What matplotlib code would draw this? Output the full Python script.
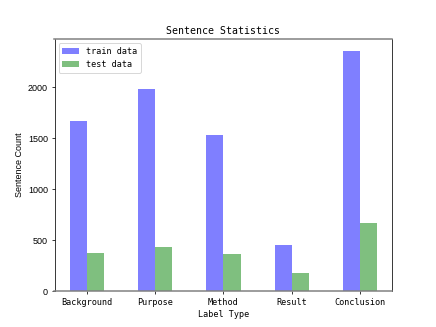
import matplotlib
matplotlib.use("Agg")
import matplotlib.pyplot as plt
import numpy as np

categories = ["Background", "Purpose", "Method", "Result", "Conclusion"]
train_counts = [1665, 1980, 1535, 455, 2355]
test_counts = [372, 436, 362, 175, 673]

mono = "DejaVu Sans Mono"
sans = "Liberation Sans"

fig = plt.figure(figsize=(6.4, 4.8), dpi=68.125)
ax = fig.add_subplot(111)
x = np.arange(len(categories))
w = 0.25
ax.bar(x, train_counts, width=w, color="blue", alpha=0.5, label="train data")
ax.bar(x + w, test_counts, width=w, color="green", alpha=0.5, label="test data")

ax.set_xticks(x + w / 2)
ax.set_xticklabels(categories, fontfamily=mono, fontsize=9)
ax.set_yticks([0, 500, 1000, 1500, 2000])
for t in ax.get_yticklabels():
    t.set_fontfamily(sans)
    t.set_fontsize(9.5)
ax.set_xlabel("Label Type", fontfamily=mono, fontsize=9)
ax.set_ylabel("Sentence Count", fontfamily=sans, fontsize=9.5)
ax.set_title("Sentence Statistics", fontfamily=mono, fontsize=10.5)

ax.spines["top"].set_color("gray")
ax.spines["bottom"].set_color("gray")
ax.spines["top"].set_linewidth(1.6)
ax.spines["bottom"].set_linewidth(1.6)

ax.legend(loc="upper left", prop={"family": mono, "size": 9})
fig.savefig("out.png", dpi=68.125)
